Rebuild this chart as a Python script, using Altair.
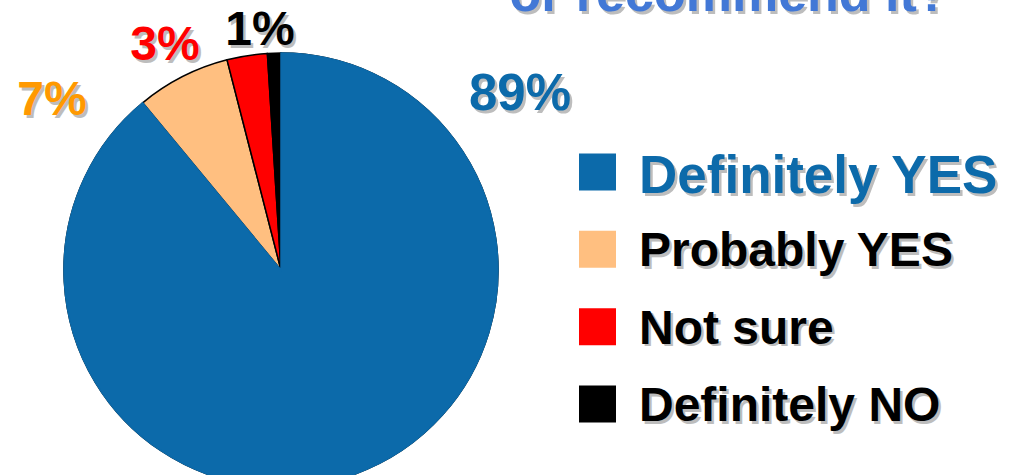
import altair as alt
import pandas as pd

# ---- data ----
categories = ["Definitely YES", "Probably YES", "Not sure", "Definitely NO"]
values = [89, 7, 3, 1]
label_texts = ["89%", "7%", "3%", "1%"]
title_line = "or recommend it?"

# ---- styles / layout ----
slice_colors = ["#0C6AAA", "#FFBF80", "#FF0000", "#000000"]
label_colors = ["#0C6AAA", "#FF9900", "#FF0000", "#000000"]
legend_text_colors = ["#0C6AAA", "#000000", "#000000", "#000000"]
label_xy = [(520, 110), (52, 115), (165, 60), (260, 45)]
label_sizes = [51, 48, 48, 48]

W, H = 1016, 475
CX, CY, R = 281, 270, 217
FONT = "Liberation Sans"
SHADOW = "#BDBDBD"
SH = 2.5

df = pd.DataFrame({
    "cat": categories,
    "value": values,
    "idx": list(range(len(categories))),
    "label": label_texts,
    "tcolor": legend_text_colors,
})

color_scale = alt.Scale(domain=categories, range=slice_colors)
theta_scale = alt.Scale(domain=[0, 100], range=[0, 6.283185307179586])

base = alt.Chart(df).transform_window(
    end="sum(value)", sort=[alt.SortField("idx")], frame=[None, 0]
).transform_calculate(start="datum.end - datum.value")

arc_enc = dict(
    theta=alt.Theta("start:Q", scale=theta_scale),
    theta2="end:Q",
    color=alt.Color("cat:N", scale=color_scale, legend=None),
    x=alt.value(CX),
    y=alt.value(CY),
    radius=alt.value(R),
)

arcs = base.mark_arc(stroke="black", strokeWidth=1.5).encode(**arc_enc)
blue_top = base.transform_filter(alt.datum.idx == 0).mark_arc(
    stroke=slice_colors[0], strokeWidth=1.5
).encode(**arc_enc)

layers = [arcs, blue_top]

# percentage labels
for i in range(len(categories)):
    lx, ly = label_xy[i]
    for shadow in (True, False):
        layers.append(
            alt.Chart(df).transform_filter(alt.datum.idx == i).mark_text(
                font=FONT, fontSize=label_sizes[i], fontWeight="bold", align="center",
                baseline="alphabetic",
                color=SHADOW if shadow else label_colors[i],
                dx=SH if shadow else 0, dy=SH if shadow else 0,
            ).encode(text="label:N", x=alt.value(lx), y=alt.value(ly))
        )

# title fragment (top cut off)
tdf = pd.DataFrame({"t": [title_line]})
for shadow in (True, False):
    layers.append(
        alt.Chart(tdf).mark_text(
            font=FONT, fontSize=52, fontWeight="bold", align="center",
            baseline="alphabetic",
            color=SHADOW if shadow else "#4278D6",
            dx=SH if shadow else 0, dy=SH if shadow else 0,
        ).encode(text="t:N", x=alt.value(729), y=alt.value(11))
    )

# custom legend
leg_y = alt.Y("cat:N", scale=alt.Scale(type="point", domain=categories,
                                        range=[172, 404], padding=0), axis=None)
squares = alt.Chart(df).mark_square(size=37 * 37, opacity=1).encode(
    x=alt.value(597.5), y=leg_y,
    color=alt.Color("cat:N", scale=color_scale, legend=None),
)
layers.append(squares)

for big in (True, False):
    sub = alt.Chart(df).transform_filter(
        (alt.datum.idx == 0) if big else (alt.datum.idx > 0)
    )
    fs = 53 if big else 48
    off = 21 if big else 17
    for shadow in (True, False):
        enc = dict(text="cat:N", x=alt.value(639), y=leg_y)
        if not shadow:
            enc["color"] = alt.Color("tcolor:N", scale=None)
        layers.append(
            sub.mark_text(
                font=FONT, fontSize=fs, fontWeight="bold", align="left",
                baseline="alphabetic",
                color=SHADOW,
                dx=SH if shadow else 0, dy=off + (SH if shadow else 0),
            ).encode(**enc)
        )

chart = alt.layer(*layers).properties(
    width=W, height=H,
    autosize=alt.AutoSizeParams(type="none"),
    padding=0,
    background="white",
).configure_view(stroke=None)

chart.save("out.html", embed_options={"renderer": "svg", "actions": False})
